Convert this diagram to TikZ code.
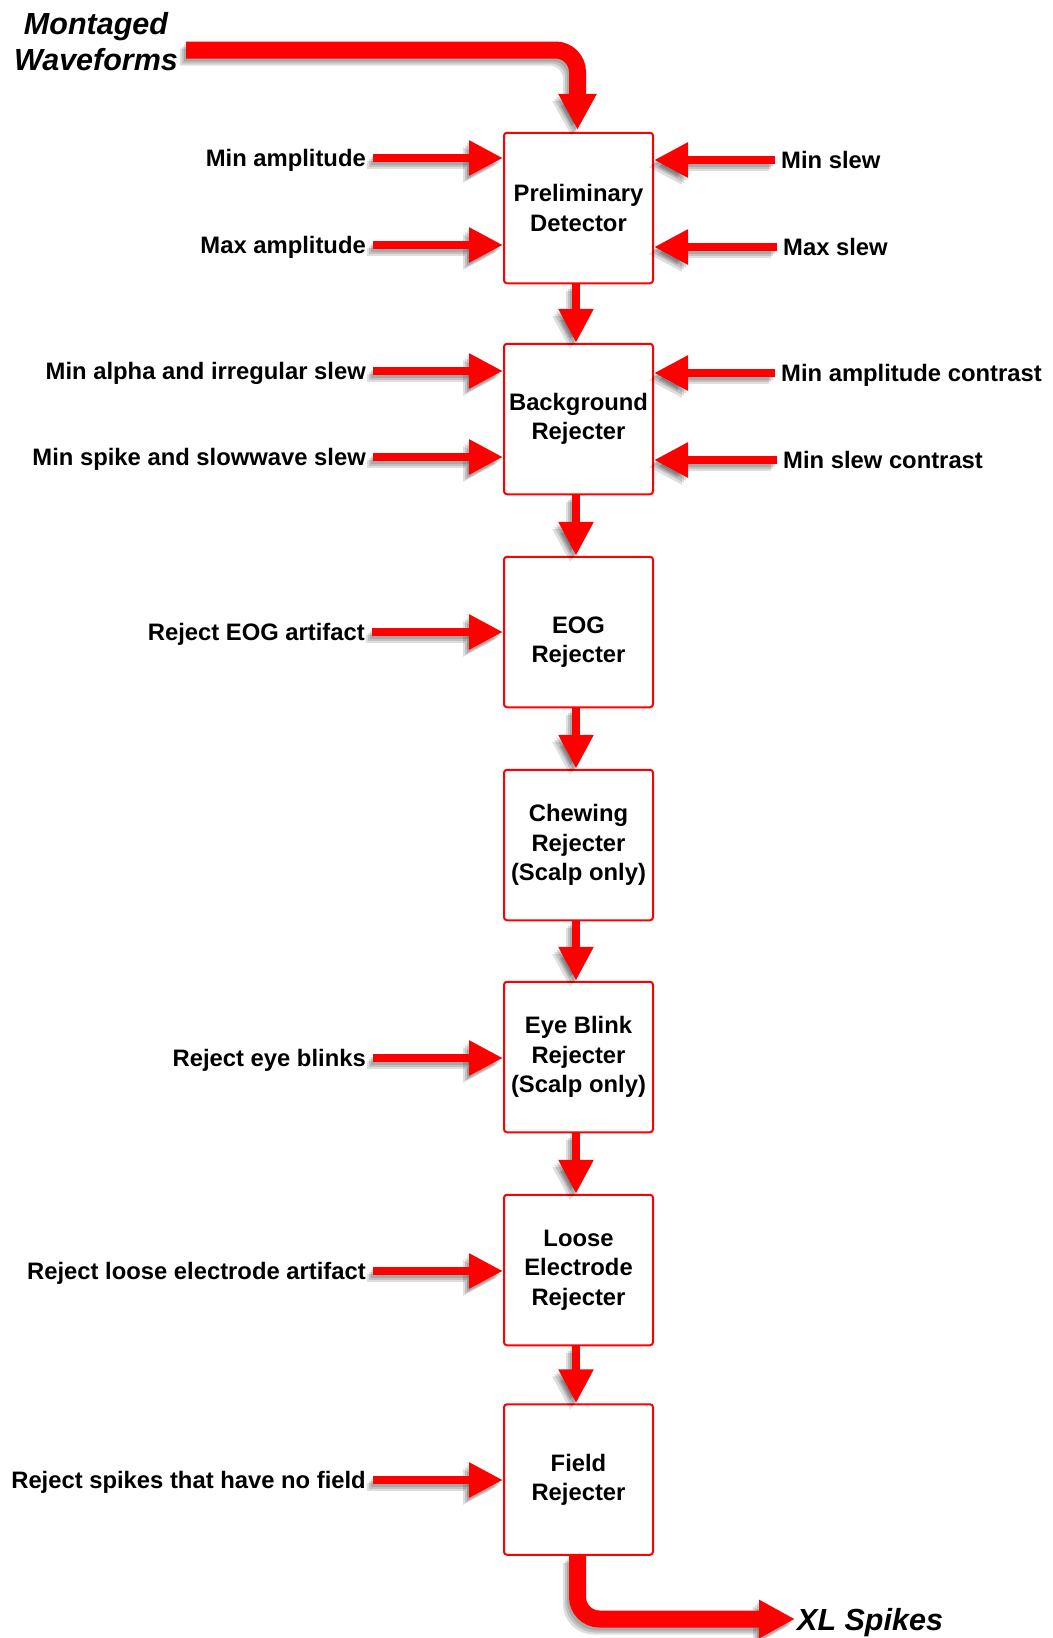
\documentclass[tikz,border=0pt]{standalone}
\usepackage{fontspec}
\setmainfont{Liberation Sans}
\usetikzlibrary{arrows.meta,calc}
\newcommand\lblfont{\fontsize{23.8}{29.3}\selectfont\bfseries}
\newcommand\bigfont{\fontsize{30.5}{36.6}\selectfont\bfseries\itshape}
\newcommand\shadarrow[2]{%
  \begin{scope}[opacity=0.13]
    \draw[#1, draw=black, transform canvas={shift={(-2pt,-3pt)}}] #2;
    \draw[#1, draw=black, transform canvas={shift={(-4pt,-5pt)}}] #2;
    \draw[#1, draw=black, transform canvas={shift={(-6pt,-7pt)}}] #2;
  \end{scope}
  \draw[#1] #2;}
\begin{document}
\begin{tikzpicture}[x=1pt,y=-1pt,
  box/.style={draw=red, line width=2pt, rounded corners=3pt, minimum width=149pt,
    minimum height=150.5pt, align=center, inner sep=0pt, font=\lblfont, text=black},
  lbl/.style={font=\lblfont, inner sep=0pt, text height=17pt, text depth=0pt, text=black},
  biglbl/.style={font=\bigfont, inner sep=0pt, text=black},
  thinarrow/.style={draw=red, line width=8.5pt, -{Triangle[length=34pt,width=33pt]}},
  thickarrow/.style={draw=red, line width=17pt, rounded corners=22pt, -{Triangle[length=36pt,width=36pt]}}]
\useasboundingbox (0,0) rectangle (1052,1638);

% boxes
\node[box] (b1) at (578.5,208) {Preliminary\\Detector};
\node[box] (b2) at (578.5,419) {Background\\Rejecter};
\node[box] (b3) at (578.5,632) {\vphantom{X}\\[-9pt]EOG\\Rejecter};
\node[box] (b4) at (578.5,845) {Chewing\\Rejecter\\(Scalp only)};
\node[box] (b5) at (578.5,1057) {Eye Blink\\Rejecter\\(Scalp only)};
\node[box] (b6) at (578.5,1270) {Loose\\Electrode\\Rejecter};
\node[box] (b7) at (578.5,1479.5) {Field\\Rejecter};

% left labels
\node[lbl, anchor=east] (l1) at (366,158) {Min amplitude};
\node[lbl, anchor=east] (l2) at (366,245) {Max amplitude};
\node[lbl, anchor=east] (l3) at (366,371) {Min alpha and irregular slew};
\node[lbl, anchor=east] (l4) at (366,457) {Min spike and slowwave slew};
\node[lbl, anchor=east] (l5) at (365,632) {Reject EOG artifact};
\node[lbl, anchor=east] (l6) at (366,1058) {Reject eye blinks};
\node[lbl, anchor=east] (l7) at (366,1271) {Reject loose electrode artifact};
\node[lbl, anchor=east] (l8) at (366,1480) {Reject spikes that have no field};

% right labels
\node[lbl, anchor=west] (r1) at (781,160) {Min slew};
\node[lbl, anchor=west] (r2) at (783,247) {Max slew};
\node[lbl, anchor=west] (r3) at (781,373) {Min amplitude contrast};
\node[lbl, anchor=west] (r4) at (783,460) {Min slew contrast};

% in / out labels
\node[biglbl, anchor=base] (mt) at (96,34) {Montaged};
\node[biglbl, anchor=base] (wf) at (96,70.5) {Waveforms};
\node[biglbl, anchor=west, text height=22pt, text depth=0pt] (xl) at (797,1619) {XL Spikes};
\coordinate (tin) at (186,50);

% side arrows
\foreach \l/\b in {l1/b1,l2/b1,l3/b2,l4/b2,l5/b3,l6/b5,l7/b6,l8/b7}{
  \shadarrow{thinarrow}{([xshift=7pt]\l.east) -- (\l.east -| \b.west)}
}
\foreach \r/\b in {r1/b1,r2/b1,r3/b2,r4/b2}{
  \shadarrow{thinarrow}{([xshift=-6pt]\r.west) -- (\r.west -| \b.east)}
}

% vertical arrows
\foreach \a/\b in {b1/b2,b2/b3,b3/b4,b4/b5,b5/b6,b6/b7}{
  \shadarrow{thinarrow}{([xshift=-2.5pt]\a.south) -- ([xshift=-2.5pt]\b.north)}
}

% input / output arrows
\shadarrow{thickarrow}{(tin) -| ([xshift=-1pt,yshift=2pt]b1.north)}
\shadarrow{thickarrow}{([xshift=-1pt]b7.south) |- ([xshift=-2pt]xl.west)}
\end{tikzpicture}
\end{document}
